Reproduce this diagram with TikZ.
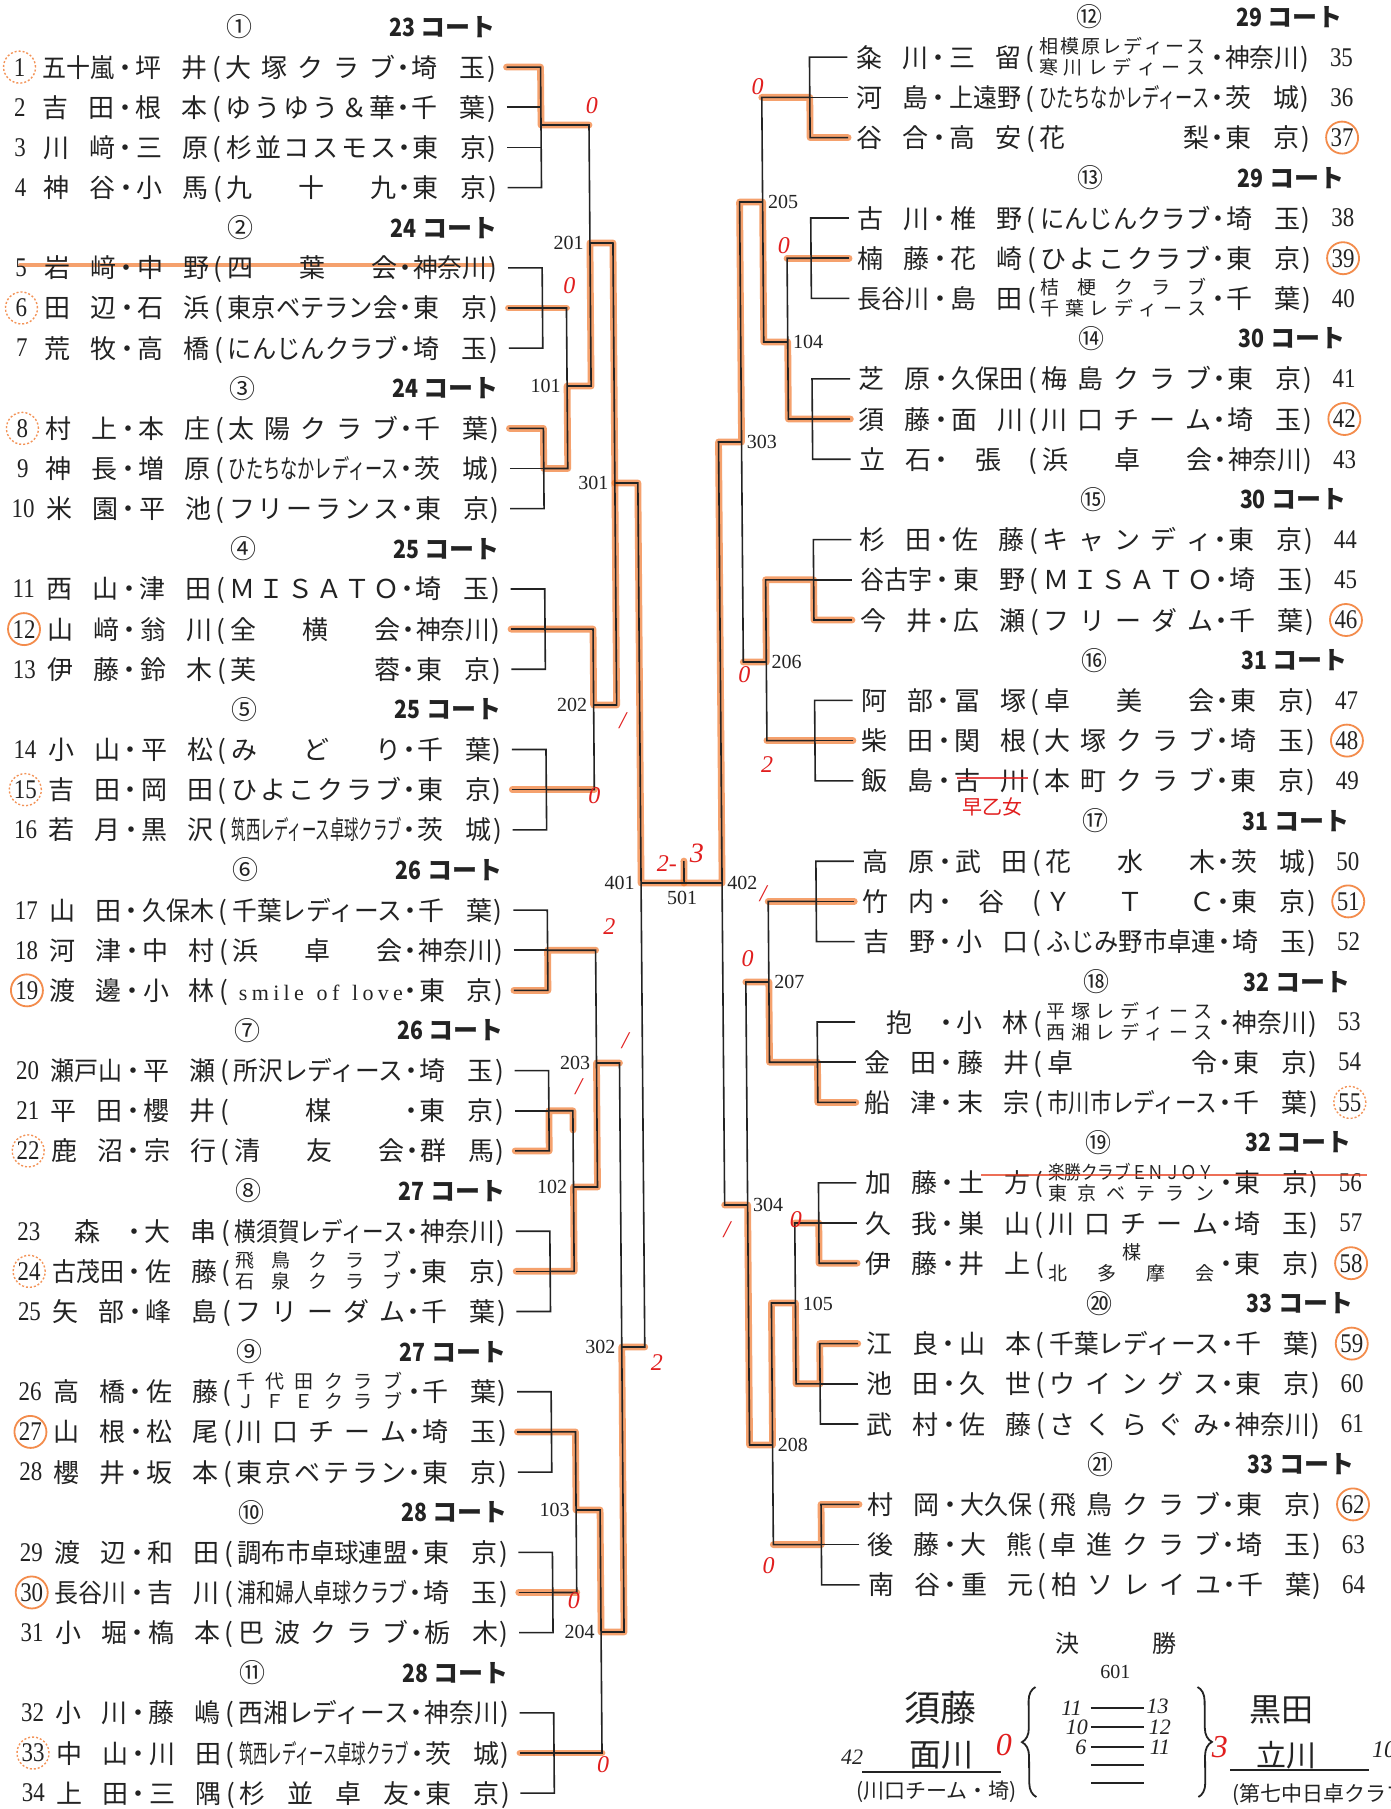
\documentclass[tikz,border=0pt]{standalone}
\usepackage{fontspec}
\usepackage{graphicx}
\setmainfont{Liberation Serif}
\newfontfamily\jp{Noto Sans CJK JP}
\usetikzlibrary{decorations.pathreplacing}
\newdimen\px \px=0.5pt
\definecolor{hlc}{RGB}{240,112,32}
\definecolor{rd}{RGB}{225,30,30}
\definecolor{ink}{RGB}{35,35,35}
\makeatletter
\def\spr#1{\spr@a#1\relax}
\def\spr@a#1{\ifx\relax#1\else #1\expandafter\spr@b\fi}
\def\spr@b#1{\ifx\relax#1\else\hfill #1\expandafter\spr@b\fi}
\makeatother
\newsavebox\fldbox
\newcommand\fld[2]{\sbox\fldbox{#2}\ifdim\wd\fldbox>#1\px\relax\resizebox{#1\px}{\height}{\usebox\fldbox}\else\makebox[#1\px][s]{\spr{#2}}\fi}
\newcommand\rowtext[4]{\fld{72}{#1}\makebox[21\px][c]{・}\fld{72}{#2}\makebox[18\px][c]{(}#3\makebox[16\px][c]{・}\fld{74}{#4}\makebox[12\px][c]{)}}
\newcommand\cl[1]{\fld{170}{#1}}
\newcommand\tw[2]{\makebox[170\px][l]{\rlap{\raisebox{6.8pt}{\fontsize{9.5}{10}\selectfont\fld{166}{#1}}}\raisebox{-3.6pt}{\fontsize{9.5}{10}\selectfont\fld{166}{#2}}}}
\newcommand\sml{\makebox[170\px][s]{\rmfamily\fontsize{11}{11}\selectfont\hspace{6\px}s\hfill m\hfill i\hfill l\hfill e\hfill\hfill\hfill o\hfill f\hfill\hfill\hfill l\hfill o\hfill v\hfill e}}
\newcommand\LR[6]{\node[rowt] (L#2) at (42,{37+40.14*#1}) {\rowtext{#3}{#4}{#5}{#6}};\node[numt] (Ln#2) at (19,{27+40.14*#1}) {\scalebox{0.85}[1]{#2}};}
\newcommand\RR[6]{\node[rowt] (R#2) at (855.5,{27+40.2*#1}) {\rowtext{#3}{#4}{#5}{#6}};\node[numt] (Rn#2) at (1341,{17+40.2*#1}) {\scalebox{0.85}[1]{#2}};}
\newcommand\LH[4]{\node[hdr] (Lh#1) at (239,{27+40.14*#2}) {#3};\node[crt] (Lc#1) at (496,{27+40.14*#2}) {\scalebox{0.85}[1]{#4} コート};}
\newcommand\RH[4]{\node[hdr] (Rh#1) at (1089,{17+40.2*#2}) {#3};\node[crt] (Rc#1) at (1343,{17+40.2*#2}) {\scalebox{0.85}[1]{#4} コート};}
\newcommand\LG[2]{\draw[br] (506,{27+40.14*#2}) -- (540,{27+40.14*#2}) -- (540,{27+40.14*(#2+2)}) -- (506,{27+40.14*(#2+2)});\draw[br] (506,{27+40.14*(#2+1)}) -- (540,{27+40.14*(#2+1)});\coordinate (#1) at (540,{27+40.14*(#2+1)});}
\newcommand\RG[2]{\draw[br] (847,{17+40.2*#2}) -- (809,{17+40.2*#2}) -- (809,{17+40.2*(#2+2)}) -- (847,{17+40.2*(#2+2)});\draw[br] (847,{17+40.2*(#2+1)}) -- (809,{17+40.2*(#2+1)});\coordinate (#1) at (809,{17+40.2*(#2+1)});}
\newcommand\M[5]{\coordinate (#1) at (#4,#5);\draw[br] (#2) -- (#2 -| #1) -- (#3 -| #1) -- (#3);}
\begin{document}
\begin{tikzpicture}[x=0.5pt,y=-0.5pt,
 br/.style={draw=ink,line width=0.8pt},
 hl/.style={draw=hlc,line width=3.4pt,opacity=0.65,line cap=round,line join=round},
 rowt/.style={anchor=base west,inner sep=0pt,outer sep=0pt,text=ink,font=\jp\fontsize{13}{15}\selectfont},
 numt/.style={inner sep=0pt,text=ink,font=\fontsize{13.5}{14}\selectfont},
 hdr/.style={inner sep=0pt,text=ink,font=\jp\fontsize{13}{14}\selectfont},
 crt/.style={anchor=east,inner sep=0pt,text=ink,font=\jp\bfseries\fontsize{12.5}{14}\selectfont},
 lab/.style={inner sep=0pt,text=ink,font=\fontsize{10}{10}\selectfont},
 ann/.style={inner sep=0pt,text=rd,font=\itshape\fontsize{12}{12}\selectfont},
 hw/.style={inner sep=0pt,text=ink},
 circ/.style={draw=hlc,line width=0.9pt,opacity=0.8},
 dcirc/.style={draw=hlc,line width=0.7pt,opacity=0.75,dash pattern=on 1pt off 1pt}]
\useasboundingbox (0,0) rectangle (1391,1809);
\fill[white] (0,0) rectangle (1391,1809);
\begin{scope}[cm={1,0,-0.008,1,(0,0)}]
% ---------- highlights (under everything)
\draw[hl] (506,67.1) -- (540,67.1) -- (540,125) -- (588,125);
\draw[hl] (506,308) -- (564,308);
\draw[hl] (506,428.4) -- (540,428.4) -- (540,468.5) -- (564,468.5) -- (564,386) -- (588,386) -- (588,243) -- (611,243) -- (611,483) -- (634,483) -- (634,883) -- (677,883);
\draw[hl] (506,629.1) -- (588,629.1) -- (588,705) -- (611,705) -- (611,483);
\draw[hl] (506,789.7) -- (588,789.7);
\draw[hl] (506,990.4) -- (540,990.4) -- (540,950.2) -- (588,950.2);
\draw[hl] (506,1150.9) -- (540,1150.9) -- (540,1110.8) -- (564,1110.8) -- (564,1130);
\draw[hl] (506,1271.3) -- (564,1271.3) -- (564,1187) -- (588,1187) -- (588,1063) -- (611,1063);
\draw[hl] (506,1431.9) -- (564,1431.9) -- (564,1510) -- (588,1510) -- (588,1632) -- (611,1632) -- (611,1347) -- (634,1347);
\draw[hl] (506,1592.5) -- (564,1592.5);
\draw[hl] (506,1753) -- (588,1753);
\draw[hl] (847,137.6) -- (809,137.6) -- (809,97.4) -- (761,97.4);
\draw[hl] (847,258.2) -- (785,258.2);
\draw[hl] (847,419) -- (785,419) -- (785,342) -- (761,342) -- (761,202) -- (738,202) -- (738,442) -- (715,442) -- (715,883) -- (677,883) -- (677,861);
\draw[hl] (847,620) -- (809,620) -- (809,579.8) -- (761,579.8) -- (761,662) -- (738,662);
\draw[hl] (847,740.6) -- (761,740.6);
\draw[hl] (847,901.4) -- (761,901.4);
\draw[hl] (847,1102.4) -- (809,1102.4) -- (809,1062.2) -- (761,1062.2) -- (761,982) -- (738,982);
\draw[hl] (847,1263.2) -- (809,1263.2) -- (809,1223) -- (785,1223);
\draw[hl] (847,1343.6) -- (809,1343.6) -- (809,1383.8) -- (785,1383.8) -- (785,1303) -- (761,1303) -- (761,1445) -- (738,1445) -- (738,1205) -- (715,1205);
\draw[hl] (847,1504.4) -- (809,1504.4) -- (809,1544.6) -- (761,1544.6);
\draw[hl,line width=2pt] (18,265) -- (490,265);
% ---------- headers
\LH{1}{0}{①}{23}\LH{2}{5}{②}{24}\LH{3}{9}{③}{24}\LH{4}{13}{④}{25}\LH{5}{17}{⑤}{25}\LH{6}{21}{⑥}{26}
\LH{7}{25}{⑦}{26}\LH{8}{29}{⑧}{27}\LH{9}{33}{⑨}{27}\LH{10}{37}{⑩}{28}\LH{11}{41}{⑪}{28}
\RH{12}{0}{⑫}{29}\RH{13}{4}{⑬}{29}\RH{14}{8}{⑭}{30}\RH{15}{12}{⑮}{30}\RH{16}{16}{⑯}{31}
\RH{17}{20}{⑰}{31}\RH{18}{24}{⑱}{32}\RH{19}{28}{⑲}{32}\RH{20}{32}{⑳}{33}\RH{21}{36}{㉑}{33}
% ---------- left rows
\LR{1}{1}{五十嵐}{坪井}{\cl{大塚クラブ}}{埼玉}
\LR{2}{2}{吉田}{根本}{\cl{ゆうゆう＆華}}{千葉}
\LR{3}{3}{川﨑}{三原}{\cl{杉並コスモス}}{東京}
\LR{4}{4}{神谷}{小馬}{\cl{九十九}}{東京}
\LR{6}{5}{岩﨑}{中野}{\cl{四葉会}}{神奈川}
\LR{7}{6}{田辺}{石浜}{\cl{東京ベテラン会}}{東京}
\LR{8}{7}{荒牧}{高橋}{\cl{にんじんクラブ}}{埼玉}
\LR{10}{8}{村上}{本庄}{\cl{太陽クラブ}}{千葉}
\LR{11}{9}{神長}{増原}{\cl{ひたちなかレディース}}{茨城}
\LR{12}{10}{米園}{平池}{\cl{フリーランス}}{東京}
\LR{14}{11}{西山}{津田}{\cl{ＭＩＳＡＴＯ}}{埼玉}
\LR{15}{12}{山﨑}{翁川}{\cl{全横会}}{神奈川}
\LR{16}{13}{伊藤}{鈴木}{\cl{芙蓉}}{東京}
\LR{18}{14}{小山}{平松}{\cl{みどり}}{千葉}
\LR{19}{15}{吉田}{岡田}{\cl{ひよこクラブ}}{東京}
\LR{20}{16}{若月}{黒沢}{\cl{筑西レディース卓球クラブ}}{茨城}
\LR{22}{17}{山田}{久保木}{\cl{千葉レディース}}{千葉}
\LR{23}{18}{河津}{中村}{\cl{浜卓会}}{神奈川}
\LR{24}{19}{渡邊}{小林}{\sml}{東京}
\LR{26}{20}{瀬戸山}{平瀬}{\cl{所沢レディース}}{埼玉}
\LR{27}{21}{平田}{櫻井}{\cl{\hfill 楳\hfill}}{東京}
\LR{28}{22}{鹿沼}{宗行}{\cl{清友会}}{群馬}
\LR{30}{23}{\hfill 森\hfill}{大串}{\cl{横須賀レディース}}{神奈川}
\LR{31}{24}{古茂田}{佐藤}{\tw{飛鳥クラブ}{石泉クラブ}}{東京}
\LR{32}{25}{矢部}{峰島}{\cl{フリーダム}}{千葉}
\LR{34}{26}{高橋}{佐藤}{\tw{千代田クラブ}{ＪＦＥクラブ}}{千葉}
\LR{35}{27}{山根}{松尾}{\cl{川口チーム}}{埼玉}
\LR{36}{28}{櫻井}{坂本}{\cl{東京ベテラン}}{東京}
\LR{38}{29}{渡辺}{和田}{\cl{調布市卓球連盟}}{東京}
\LR{39}{30}{長谷川}{吉川}{\cl{浦和婦人卓球クラブ}}{埼玉}
\LR{40}{31}{小堀}{槗本}{\cl{巴波クラブ}}{栃木}
\LR{42}{32}{小川}{藤嶋}{\cl{西湘レディース}}{神奈川}
\LR{43}{33}{中山}{川田}{\cl{筑西レディース卓球クラブ}}{茨城}
\LR{44}{34}{上田}{三隅}{\cl{杉並卓友}}{東京}
% ---------- right rows
\RR{1}{35}{粂川}{三留}{\tw{相模原レディース}{寒川レディース}}{神奈川}
\RR{2}{36}{河島}{上遠野}{\cl{ひたちなかレディース}}{茨城}
\RR{3}{37}{谷合}{高安}{\cl{花梨}}{東京}
\RR{5}{38}{古川}{椎野}{\cl{にんじんクラブ}}{埼玉}
\RR{6}{39}{楠藤}{花崎}{\cl{ひよこクラブ}}{東京}
\RR{7}{40}{長谷川}{島田}{\tw{桔梗クラブ}{千葉レディース}}{千葉}
\RR{9}{41}{芝原}{久保田}{\cl{梅島クラブ}}{東京}
\RR{10}{42}{須藤}{面川}{\cl{川口チーム}}{埼玉}
\RR{11}{43}{立石}{\hfill 張\hfill}{\cl{浜卓会}}{神奈川}
\RR{13}{44}{杉田}{佐藤}{\cl{キャンディ}}{東京}
\RR{14}{45}{谷古宇}{東野}{\cl{ＭＩＳＡＴＯ}}{埼玉}
\RR{15}{46}{今井}{広瀬}{\cl{フリーダム}}{千葉}
\RR{17}{47}{阿部}{冨塚}{\cl{卓美会}}{東京}
\RR{18}{48}{柴田}{関根}{\cl{大塚クラブ}}{埼玉}
\RR{19}{49}{飯島}{古川}{\cl{本町クラブ}}{東京}
\RR{21}{50}{高原}{武田}{\cl{花水木}}{茨城}
\RR{22}{51}{竹内}{\hfill 谷\hfill}{\cl{ＹＴＣ}}{東京}
\RR{23}{52}{吉野}{小口}{\cl{ふじみ野市卓連}}{埼玉}
\RR{25}{53}{\hfill 抱\hfill}{小林}{\tw{平塚レディース}{西湘レディース}}{神奈川}
\RR{26}{54}{金田}{藤井}{\cl{卓令}}{東京}
\RR{27}{55}{船津}{末宗}{\cl{市川市レディース}}{千葉}
\RR{29}{56}{加藤}{土方}{\tw{楽勝クラブＥＮＪＯＹ}{東京ベテラン}}{東京}
\RR{30}{57}{久我}{巣山}{\cl{川口チーム}}{埼玉}
\RR{31}{58}{伊藤}{井上}{\tw{\hfill 楳\hfill}{北多摩会}}{東京}
\RR{33}{59}{江良}{山本}{\cl{千葉レディース}}{千葉}
\RR{34}{60}{池田}{久世}{\cl{ウイングス}}{東京}
\RR{35}{61}{武村}{佐藤}{\cl{さくらぐみ}}{神奈川}
\RR{37}{62}{村岡}{大久保}{\cl{飛鳥クラブ}}{東京}
\RR{38}{63}{後藤}{大熊}{\cl{卓進クラブ}}{埼玉}
\RR{39}{64}{南谷}{重元}{\cl{柏ソレイユ}}{千葉}
% ---------- group brackets
\draw[br] (506,67.14) -- (540,67.14) -- (540,187.56) -- (506,187.56);
\draw[br] (506,107.28) -- (540,107.28);
\draw[br] (506,147.42) -- (540,147.42);
\coordinate (gL1) at (540,125);
\LG{gL2}{6}\LG{gL3}{10}\LG{gL4}{14}\LG{gL5}{18}\LG{gL6}{22}\LG{gL7}{26}\LG{gL8}{30}\LG{gL9}{34}\LG{gL10}{38}\LG{gL11}{42}
\RG{gR12}{1}\RG{gR13}{5}\RG{gR14}{9}\RG{gR15}{13}\RG{gR16}{17}\RG{gR17}{21}\RG{gR18}{25}\RG{gR19}{29}\RG{gR20}{33}\RG{gR21}{37}
% ---------- matches
\M{m101}{gL2}{gL3}{564}{386}
\M{m201}{gL1}{m101}{588}{243}
\M{m202}{gL4}{gL5}{588}{705}
\M{m301}{m201}{m202}{611}{483}
\M{m102}{gL7}{gL8}{564}{1187}
\M{m203}{gL6}{m102}{588}{1063}
\M{m103}{gL9}{gL10}{564}{1510}
\M{m204}{m103}{gL11}{588}{1632}
\M{m302}{m203}{m204}{611}{1347}
\M{m401}{m301}{m302}{634}{883}
\M{m104}{gR13}{gR14}{785}{342}
\M{m205}{gR12}{m104}{761}{202}
\M{m206}{gR15}{gR16}{761}{662}
\M{m303}{m205}{m206}{738}{442}
\M{m207}{gR17}{gR18}{761}{982}
\M{m105}{gR19}{gR20}{785}{1303}
\M{m208}{m105}{gR21}{761}{1445}
\M{m304}{m207}{m208}{738}{1205}
\M{m402}{m303}{m304}{715}{883}
\draw[br] (m401) -- (m402);
\coordinate (m501) at (677,883);
\coordinate (m501t) at (677,861);
\draw[br] (m501) -- (m501t);
% ---------- match labels
\node[lab,anchor=east] (t101) at (558,386) {101};
\node[lab,anchor=east] (t201) at (582,243) {201};
\node[lab,anchor=east] (t202) at (582,705) {202};
\node[lab,anchor=east] (t301) at (605,483) {301};
\node[lab,anchor=east] (t102) at (558,1187) {102};
\node[lab,anchor=east] (t203) at (582,1063) {203};
\node[lab,anchor=east] (t103) at (558,1510) {103};
\node[lab,anchor=east] (t204) at (582,1632) {204};
\node[lab,anchor=east] (t302) at (605,1347) {302};
\node[lab,anchor=east] (t401) at (628,883) {401};
\node[lab,anchor=north] (t501) at (675,891) {501};
\node[lab,anchor=west] (t402) at (720,883) {402};
\node[lab,anchor=west] (t104) at (790,342) {104};
\node[lab,anchor=west] (t205) at (766,202) {205};
\node[lab,anchor=west] (t206) at (766,662) {206};
\node[lab,anchor=west] (t303) at (743,442) {303};
\node[lab,anchor=west] (t207) at (766,982) {207};
\node[lab,anchor=west] (t105) at (792,1304) {105};
\node[lab,anchor=west] (t208) at (766,1445) {208};
\node[lab,anchor=west] (t304) at (743,1205) {304};
% ---------- circles
\foreach \n in {1,6,8,15,22,24,33} \draw[dcirc] (Ln\n) circle[radius=8pt];
\foreach \n in {12,19,27,30} \draw[circ] (Ln\n) circle[radius=8pt];
\foreach \n in {37,39,42,46,48,51,58,59,62} \draw[circ] (Rn\n) circle[radius=8pt];
\draw[dcirc] (Rn55) circle[radius=8pt];
% ---------- strike-throughs
\draw[draw=rd!60!hlc,line width=1.4pt,opacity=0.75] (972,1175) -- (1358,1175);
\draw[draw=rd,line width=1.2pt,opacity=0.8] (951,778) -- (1022,778);
\node[ann,font=\jp\fontsize{10}{10}\selectfont] (a20) at (986,807) {早乙女};
% ---------- red scores
\node[ann] (a1) at (591,106) {0};
\node[ann] (a2) at (567,286) {0};
\node[ann] (a3) at (588,796) {0};
\node[ann] (a4) at (617,721) {/};
\node[ann] (a5) at (602,927) {2};
\node[ann] (a6) at (617,1041) {/};
\node[ann] (a7) at (570,1087) {/};
\node[ann] (a8) at (660,864) {2-};
\node[ann,font=\itshape\fontsize{14}{14}\selectfont] (a8b) at (690,853) {3};
\node[ann] (a9) at (646,1363) {2};
\node[ann] (a10) at (561,1601) {0};
\node[ann] (a11) at (589,1765) {0};
\node[ann] (a12) at (757,87) {0};
\node[ann] (a13) at (782,246) {0};
\node[ann] (a14) at (739,675) {0};
\node[ann] (a15) at (761,765) {2};
\node[ann] (a16) at (756,894) {/};
\node[ann] (a17) at (740,959) {0};
\node[ann] (a18) at (786,1220) {0};
\node[ann] (a19) at (717,1230) {/};
\node[ann] (a22) at (756,1566) {0};
% ---------- final
\node[hdr,font=\jp\fontsize{12}{12}\selectfont] (kes) at (1054,1643) {決};
\node[hdr,font=\jp\fontsize{12}{12}\selectfont] (sho) at (1151,1643) {勝};
\node[lab] (t601) at (1102,1672) {601};
\coordinate (bl1) at (1022,1797); \coordinate (bl2) at (1022,1687);
\coordinate (br1) at (1184,1687); \coordinate (br2) at (1184,1797);
\draw[ink,line width=0.9pt,decorate,decoration={brace,amplitude=7pt}] (bl1) -- (bl2);
\draw[ink,line width=0.9pt,decorate,decoration={brace,amplitude=7pt}] (br1) -- (br2);
\foreach \yy in {1708,1727,1747,1765,1783} \draw[br] (1077,\yy) -- (1130,\yy);
\node[hw,font=\itshape\fontsize{11}{11}\selectfont] (s1) at (1058,1708) {11};
\node[hw,font=\itshape\fontsize{11}{11}\selectfont] (s2) at (1144,1706) {13};
\node[hw,font=\itshape\fontsize{11}{11}\selectfont] (s3) at (1063,1727) {10};
\node[hw,font=\itshape\fontsize{11}{11}\selectfont] (s4) at (1146,1727) {12};
\node[hw,font=\itshape\fontsize{11}{11}\selectfont] (s5) at (1067,1747) {6};
\node[hw,font=\itshape\fontsize{11}{11}\selectfont] (s6) at (1146,1747) {11};
\node[hw,font=\jp\fontsize{18}{18}\selectfont] (f1) at (927,1708) {須藤};
\node[hw,font=\jp\fontsize{16}{16}\selectfont] (f2) at (927,1755) {面川};
\node[hw,font=\itshape\fontsize{11}{11}\selectfont] (f3) at (838,1757) {42};
\coordinate (u1) at (848,1772); \coordinate (u2) at (987,1772);
\draw[br] (u1) -- (u2);
\node[hw,font=\jp\fontsize{10.5}{11}\selectfont] (f4) at (922,1792) {(川口チーム・埼)};
\node[ann,font=\itshape\fontsize{16}{16}\selectfont] (f5) at (990,1745) {0};
\node[ann,font=\itshape\fontsize{16}{16}\selectfont] (f6) at (1206,1747) {3};
\node[hw,font=\jp\fontsize{16}{16}\selectfont] (f7) at (1268,1710) {黒田};
\node[hw,font=\jp\fontsize{15}{15}\selectfont] (f8) at (1272,1755) {立川};
\node[hw,font=\itshape\fontsize{12}{12}\selectfont] (f9) at (1370,1750) {10};
\coordinate (u3) at (1216,1770); \coordinate (u4) at (1355,1770);
\draw[br] (u3) -- (u4);
\node[hw,font=\jp\fontsize{10.5}{11}\selectfont,anchor=west] (f10) at (1218,1795) {(第七中日卓クラブ・埼};
\end{scope}
\end{tikzpicture}
\end{document}
